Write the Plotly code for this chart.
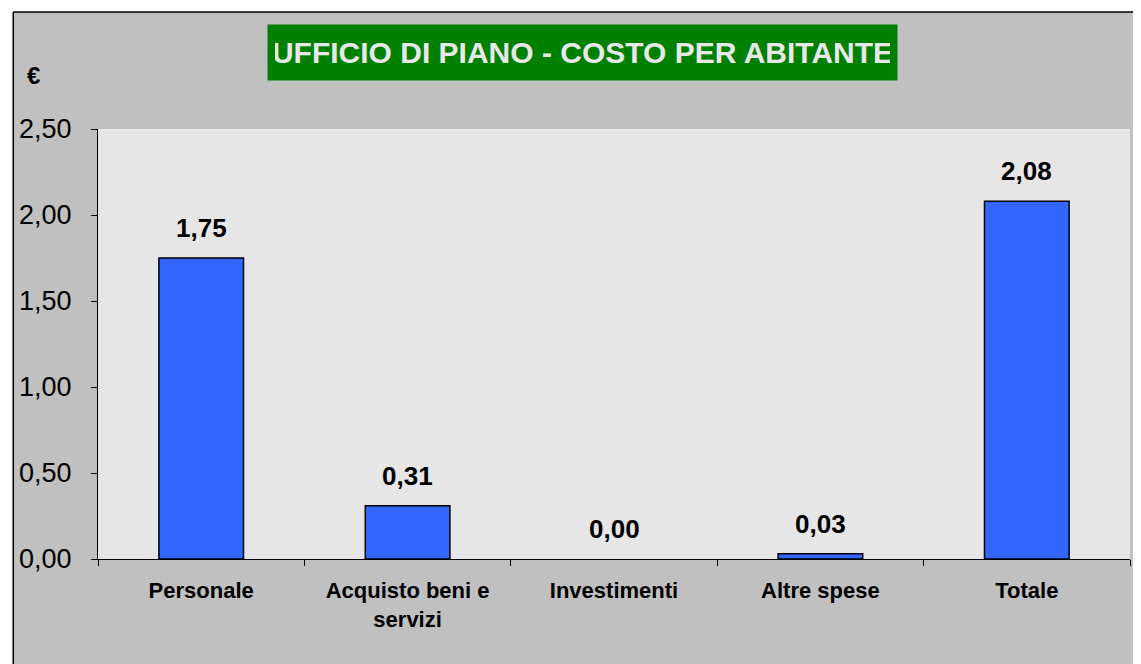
import plotly.graph_objects as go

categories = ["Personale", "Acquisto beni e servizi", "Investimenti", "Altre spese", "Totale"]
tick_labels = ["Personale", "Acquisto beni e<br>servizi", "Investimenti", "Altre spese", "Totale"]
values = [1.75, 0.31, 0.00, 0.03, 2.08]
title_text = "UFFICIO DI PIANO - COSTO PER ABITANTE"
y_unit = "€"

# page is rendered with an 8px body margin; figure coordinates are offset by it
OFF = 8
W, H = 1141 - OFF, 664 - OFF
L, R, T, B = 95 - OFF, 11, 129 - OFF, 105
PW, PH = W - L - R, H - T - B
FONT = "Liberation Sans, Arial, sans-serif"


def px(x):
    # x in page pixels -> paper coords
    return (x - OFF - L) / PW


def py(y):
    return (H - B - (y - OFF)) / PH


fig = go.Figure()
fig.add_trace(go.Bar(
    x=categories, y=values,
    marker=dict(color="#3366ff",
                line=dict(color="#000000", width=[1.5 if v > 0 else 0 for v in values])),
    hoverinfo="skip",
))

annotations = []
for c, v in zip(categories, values):
    annotations.append(dict(
        x=c, y=v, xref="x", yref="y", text=f"{v:.2f}".replace(".", ","),
        showarrow=False, yshift=30, yanchor="middle",
        font=dict(family=FONT, size=26, color="#000000", weight="bold"),
    ))
annotations.append(dict(
    x=px(580.5), y=py(52.5), xref="paper", yref="paper", text=title_text,
    showarrow=False, xanchor="center", yanchor="middle",
    bgcolor="#008000", borderpad=7, width=615, height=41,
    font=dict(family=FONT, size=30, color="#e8e8e8", weight="bold"),
))
annotations.append(dict(
    x=px(30), y=py(75), xref="paper", yref="paper", text=y_unit,
    showarrow=False, xanchor="center", yanchor="middle",
    font=dict(family=FONT, size=24, color="#000000", weight="bold"),
))

shapes = [
    dict(type="rect", xref="paper", yref="paper", x0=px(0), x1=px(1141), y0=py(0), y1=py(12),
         fillcolor="#ffffff", line=dict(width=0), layer="below"),
    dict(type="rect", xref="paper", yref="paper", x0=px(0), x1=px(10), y0=py(0), y1=py(664),
         fillcolor="#ffffff", line=dict(width=0), layer="below"),
    dict(type="line", xref="paper", yref="paper", x0=px(10), x1=px(1141), y0=py(12), y1=py(12),
         line=dict(color="#000000", width=1.5)),
    dict(type="line", xref="paper", yref="paper", x0=px(10), x1=px(10), y0=py(12), y1=py(664),
         line=dict(color="#000000", width=1.5)),
]

fig.update_layout(
    width=W, height=H,
    margin=dict(l=L, r=R, t=T, b=B, pad=0),
    paper_bgcolor="#c0c0c0", plot_bgcolor="#e6e6e6",
    separators=",.",
    showlegend=False,
    bargap=0.59,
    annotations=annotations,
    shapes=shapes,
    xaxis=dict(
        tickmode="array", tickvals=categories, ticktext=tick_labels,
        tickson="boundaries", ticks="outside", ticklen=6, tickcolor="#000000",
        showline=True, linecolor="#000000", linewidth=1, showgrid=False,
        tickfont=dict(family=FONT, size=22, color="#000000", weight="bold"),
        ticklabelstandoff=12,
    ),
    yaxis=dict(
        range=[0, 2.5], dtick=0.5, tickformat=".2f",
        ticks="outside", ticklen=6, tickcolor="#000000",
        showline=True, linecolor="#000000", linewidth=1, showgrid=False,
        zeroline=False,
        tickfont=dict(family=FONT, size=27, color="#000000"),
        ticklabelstandoff=14,
    ),
)

fig.write_html("out.html")
